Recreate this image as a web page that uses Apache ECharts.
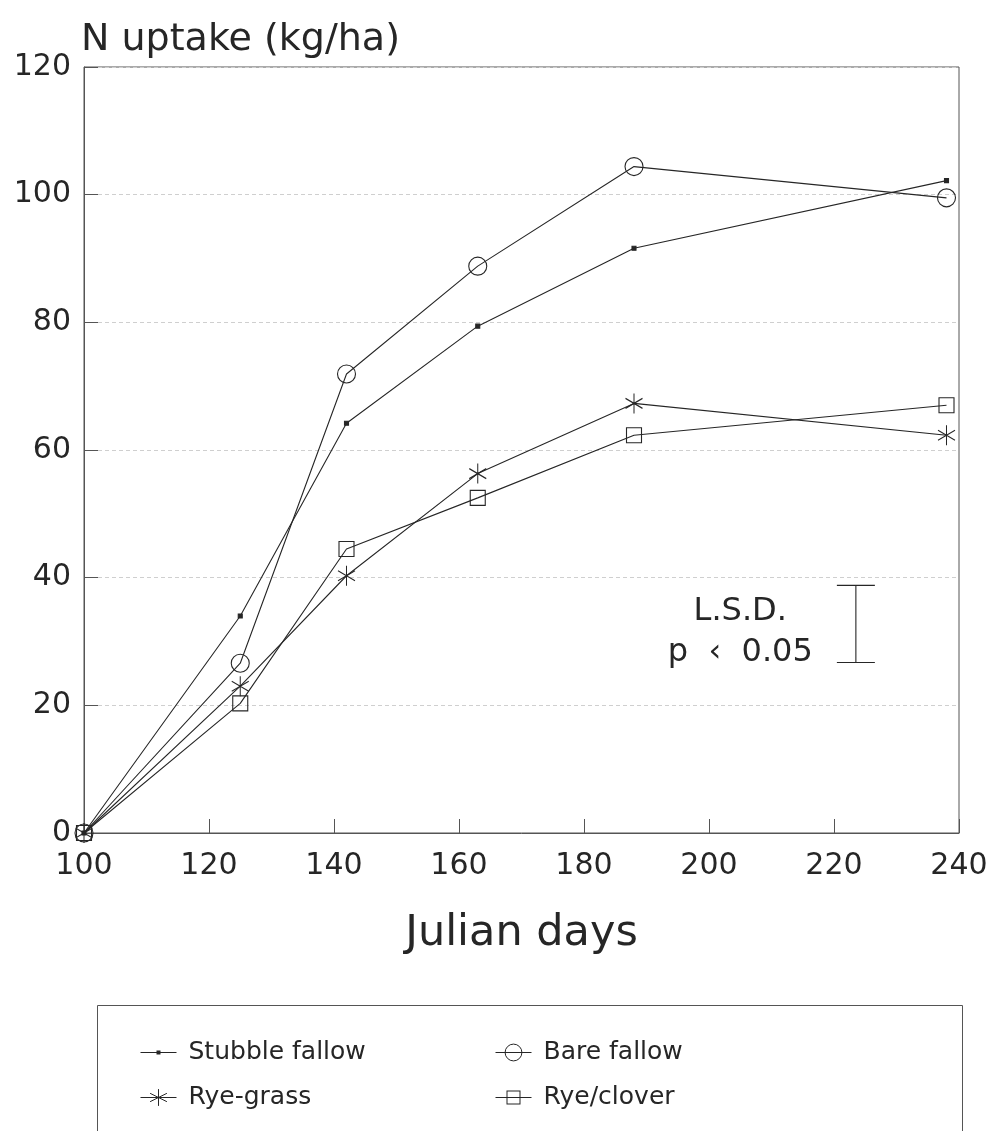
<!DOCTYPE html>
<html><head><meta charset="utf-8">
<script src="https://cdn.jsdelivr.net/npm/echarts@6/dist/echarts.min.js"></script>
<style>html,body{margin:0;padding:0;background:#fff}#c{width:991px;height:1131px}</style>
</head><body><div id="c"></div>
<script>
var days = [100, 125, 142, 163, 188, 238];
var stubbleFallow = [0, 34, 64.2, 79.4, 91.6, 102.2];
var bareFallow = [0, 26.6, 71.9, 88.8, 104.4, 99.5];
var ryeGrass = [0, 23, 40.3, 56.3, 67.3, 62.3];
var ryeClover = [0, 20.3, 44.5, 52.5, 62.3, 67];
var lsdDay = 223.5;
var lsdLow = 26.7;
var lsdHigh = 38.8;
var lsdLabelDay = 205;
var lsdLabels = ['L.S.D.', 'p  \u2039  0.05'];
var lsdLabelY = [34.7, 28.2];
var xTicks = {min: 100, max: 240, interval: 20};
var yTicks = {min: 0, max: 120, interval: 20};

function pairs(ys) { return days.map(function (d, i) { return [d, ys[i]]; }); }

var ink = '#262626';
var font = 'DejaVu Sans';
var asterisk = 'path://M10,0L10,20M1.34,5L18.66,15M1.34,15L18.66,5';
var iconDotLine = 'path://M0,9.5L36,9.5L36,10.5L0,10.5ZM16,8L20,8L20,12L16,12Z';
var iconSquareLine = 'path://M0,9.5L36,9.5L36,10.5L0,10.5ZM11,3L25,3L25,17L11,17ZM12,4L12,16L24,16L24,4Z';

function lineSeries(name, ys, symbol, size, filled) {
  return {
    name: name, type: 'line', data: pairs(ys), symbol: symbol, symbolSize: size,
    lineStyle: {color: ink, width: 1.1},
    itemStyle: {color: filled ? ink : 'rgba(0,0,0,0)', borderColor: ink, borderWidth: 1.1},
    z: 3
  };
}

var legendText = {fontFamily: font, fontSize: 25, color: ink, padding: [0, 0, 0, 7]};

var chart = echarts.init(document.getElementById('c'), null, {renderer: 'canvas'});
chart.setOption({
  animation: false,
  backgroundColor: '#fff',
  title: {text: 'N uptake (kg/ha)', left: 76, top: 16,
    textStyle: {fontFamily: font, fontSize: 38, fontWeight: 'normal', color: ink}},
  grid: {left: 84, right: 32, top: 67, bottom: 298, show: true, borderColor: '#555', borderWidth: 1},
  xAxis: {type: 'value', min: xTicks.min, max: xTicks.max, interval: xTicks.interval,
    name: 'Julian days', nameLocation: 'middle', nameGap: 79,
    nameTextStyle: {fontFamily: font, fontSize: 43, color: ink},
    axisLine: {lineStyle: {color: '#555'}},
    axisTick: {inside: true, length: 14, lineStyle: {color: '#555'}},
    axisLabel: {fontFamily: font, fontSize: 30, color: ink, margin: 18},
    splitLine: {show: false}},
  yAxis: {type: 'value', min: yTicks.min, max: yTicks.max, interval: yTicks.interval,
    axisLine: {show: true, lineStyle: {color: '#555'}},
    axisTick: {show: true, inside: true, length: 14, lineStyle: {color: '#555'}},
    axisLabel: {fontFamily: font, fontSize: 30, color: ink, margin: 13},
    splitLine: {show: true, lineStyle: {color: '#cfcfcf', type: [4, 3], width: 1}}},
  legend: [
    {data: [{name: 'Stubble fallow', icon: iconDotLine, itemStyle: {color: ink, borderWidth: 0}}, 'Rye-grass'],
      orient: 'vertical', left: 135, top: 1035, itemGap: 20,
      itemWidth: 36, itemHeight: 21, textStyle: legendText,
      lineStyle: {width: 1}, itemStyle: {borderWidth: 1}},
    {data: ['Bare fallow', {name: 'Rye/clover', icon: iconSquareLine, itemStyle: {color: ink, borderWidth: 0}}],
      orient: 'vertical', left: 490, top: 1035, itemGap: 20,
      itemWidth: 36, itemHeight: 21, textStyle: legendText,
      lineStyle: {width: 1}, itemStyle: {borderWidth: 1}}
  ],
  graphic: [{type: 'rect', left: 95, top: 1003, shape: {width: 865, height: 200},
    style: {fill: 'none', stroke: '#555', lineWidth: 1}, z: 1}],
  series: [
    lineSeries('Stubble fallow', stubbleFallow, 'rect', 4, true),
    lineSeries('Bare fallow', bareFallow, 'circle', 18, false),
    lineSeries('Rye-grass', ryeGrass, asterisk, [17, 20], false),
    lineSeries('Rye/clover', ryeClover, 'rect', 15, false),
    {type: 'custom', name: 'lsd', data: [[lsdDay, lsdLow, lsdHigh]],
      renderItem: function (params, api) {
        var lo = api.coord([api.value(0), api.value(1)]);
        var hi = api.coord([api.value(0), api.value(2)]);
        var hw = 19;
        var st = {stroke: ink, lineWidth: 1.1};
        return {type: 'group', children: [
          {type: 'line', shape: {x1: lo[0], y1: lo[1], x2: hi[0], y2: hi[1]}, style: st},
          {type: 'line', shape: {x1: lo[0] - hw, y1: lo[1], x2: lo[0] + hw, y2: lo[1]}, style: st},
          {type: 'line', shape: {x1: hi[0] - hw, y1: hi[1], x2: hi[0] + hw, y2: hi[1]}, style: st}
        ]};
      }},
    {type: 'custom', name: 'lsdText', data: lsdLabels.map(function (t, i) { return [lsdLabelDay, lsdLabelY[i]]; }),
      renderItem: function (params, api) {
        var p = api.coord([api.value(0), api.value(1)]);
        return {type: 'text', x: p[0], y: p[1],
          style: {text: lsdLabels[params.dataIndex], fontFamily: font, fontSize: 32, fill: ink, align: 'center', verticalAlign: 'middle'}};
      }}
  ]
});
</script></body></html>
